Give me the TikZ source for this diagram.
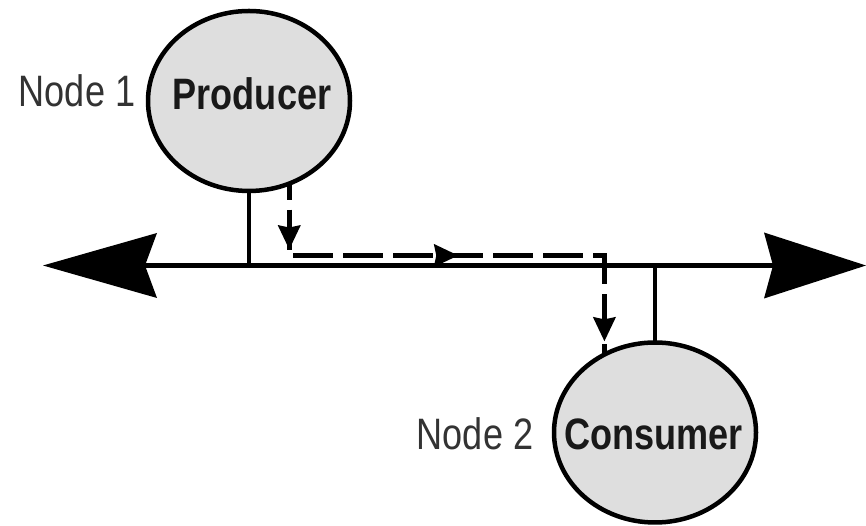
\documentclass[tikz,border=0pt]{standalone}
\usepackage{fontspec}
\usetikzlibrary{arrows.meta,shapes.geometric,decorations.markings}
\newfontfamily\lblfont[FakeStretch=0.82]{Liberation Sans}
\definecolor{discfill}{HTML}{DEDEDE}
\definecolor{lblgray}{HTML}{333333}
\begin{document}
\begin{tikzpicture}[x=1pt,y=1pt,
  disc/.style={ellipse, draw=black, line width=4.5pt, fill=discfill,
    minimum width=202pt, minimum height=180pt, inner sep=0pt, outer sep=0pt},
  busline/.style={line width=5pt},
  stem/.style={line width=4.5pt},
  roletext/.style={font=\lblfont\bfseries\fontsize{44}{50}\selectfont,
    text=black!90, inner sep=0pt, anchor=base},
  nodetext/.style={font=\lblfont\fontsize{44}{50}\selectfont,
    text=lblgray, inner sep=0pt, anchor=base},
  flowhead/.tip={Stealth[length=24pt,width=22pt,inset=2pt]},
  flow/.style={line width=4.5pt, dash pattern=on 40pt off 10pt, dash phase=24pt,
    postaction={decorate},
    decoration={markings,
      mark=at position 66pt with {\arrow{flowhead}},
      mark=at position 241pt with {\arrow{flowhead}},
      mark=at position 473pt with {\arrow{flowhead}}}}
]
\useasboundingbox (0,0) rectangle (866,526);

% the two stations
\node[disc] (prod) at (249,425) {};
\node[disc] (cons) at (655,93.5) {};

\node[roletext] (prodtxt) at (252,416) {Producer};
\node[roletext] (constxt) at (653.5,76) {Consumer};
\node[nodetext] (n1) at (77,419) {Node 1};
\node[nodetext] (n2) at (475,76) {Node 2};

% the shared bus
\coordinate (busL) at (43,260.5);
\coordinate (busR) at (866,260.5);
\coordinate (flowy) at (0,270.5);
\draw[busline,
  {Stealth[length=114pt,width=65pt,inset=12pt,line width=0pt]}-{Stealth[length=102pt,width=66pt,inset=9pt,line width=0pt]}]
  (busL) -- (busR);

% taps from each station onto the bus
\draw[stem] (prod.south) -- (prod.south |- busL);
\draw[stem] (cons.north) -- (cons.north |- busL);

% message path from producer to consumer
\draw[flow] (prod.-64.2) -- (prod.-64.2 |- flowy) -- (cons.123.3 |- flowy) -- (cons.123.3);
\end{tikzpicture}
\end{document}
